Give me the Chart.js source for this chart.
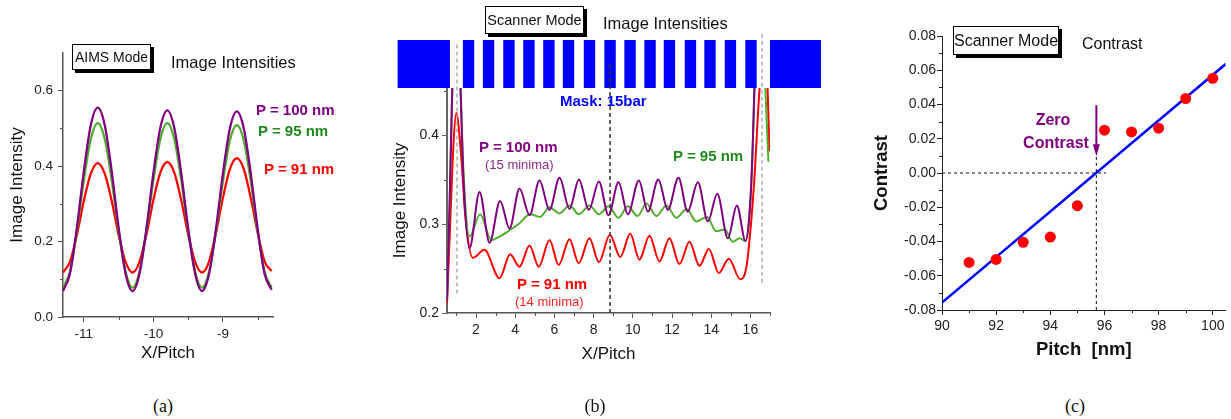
<!DOCTYPE html>
<html lang="en">
<head>
<meta charset="UTF-8" />
<title>Image Intensities and Contrast</title>
<script src="https://cdn.jsdelivr.net/npm/chart.js"></script>
<style>
  body { margin: 0; background: #fff; }
  #page { position: relative; width: 1231px; height: 419px; overflow: hidden;
          font-family: 'Liberation Sans', Arial, sans-serif; color: #111; }
  canvas { position: absolute; top: 0; }
  .txt { position: absolute; white-space: nowrap; line-height: 1; }
  .bold { font-weight: bold; }
  .box { position: absolute; border: 1px solid #000; background: #fff; box-shadow: 3px 3px 0 #000;
         box-sizing: border-box; text-align: center; white-space: nowrap; }
  .mid { transform: translateX(-50%); }
  .cap { position: absolute; font-family: 'Liberation Serif', 'Times New Roman', serif; font-size: 18px;
         line-height: 1; transform: translateX(-50%); }
</style>
</head>
<body>
<div id="page">
  <canvas id="chartA" width="340" height="372" style="left:0px"></canvas>
  <canvas id="chartB" width="480" height="372" style="left:350px"></canvas>
  <canvas id="chartC" width="371" height="372" style="left:860px"></canvas>

  <!-- (a) -->
  <div class="box" style="left:72px;top:44px;width:79px;height:26px;font-size:14px;line-height:24px;">AIMS Mode</div>
  <div class="txt" style="left:171px;top:54px;font-size:16.5px;">Image Intensities</div>
  <div class="txt bold" style="left:256px;top:102px;font-size:15px;color:#800080;">P = 100 nm</div>
  <div class="txt bold" style="left:258px;top:123px;font-size:15px;color:#1e8a1e;">P = 95 nm</div>
  <div class="txt bold" style="left:264px;top:161px;font-size:15px;color:#ff0000;">P = 91 nm</div>

  <!-- (b) -->
  <div class="box" style="left:485px;top:6px;width:99px;height:28px;font-size:14.5px;line-height:26px;">Scanner Mode</div>
  <div class="txt" style="left:603px;top:15px;font-size:16.5px;">Image Intensities</div>
  <div class="txt bold" style="left:560px;top:93px;font-size:15px;color:#0000ff;">Mask: 15bar</div>
  <div class="txt bold" style="left:479px;top:139px;font-size:15px;color:#800080;">P = 100 nm</div>
  <div class="txt" style="left:485px;top:158px;font-size:13px;color:#8a2a8a;">(15 minima)</div>
  <div class="txt bold" style="left:673px;top:148px;font-size:15px;color:#1e8a1e;">P = 95 nm</div>
  <div class="txt bold" style="left:517px;top:276px;font-size:15px;color:#ff0000;">P = 91 nm</div>
  <div class="txt" style="left:515px;top:295px;font-size:13px;color:#ff2020;">(14 minima)</div>

  <!-- (c) -->
  <div class="box" style="left:953px;top:26px;width:106px;height:29px;font-size:16px;line-height:27px;">Scanner Mode</div>
  <div class="txt" style="left:1082px;top:36px;font-size:16px;">Contrast</div>
  <div class="txt bold mid" style="left:1053px;top:112px;font-size:16px;color:#800080;">Zero</div>
  <div class="txt bold mid" style="left:1056px;top:135px;font-size:16px;color:#800080;">Contrast</div>

  <div class="cap" style="left:163px;top:397px;">(a)</div>
  <div class="cap" style="left:595px;top:397px;">(b)</div>
  <div class="cap" style="left:1075px;top:397px;">(c)</div>
</div>

<script>
// ---------- (a) AIMS mode, image intensity vs X/Pitch ----------
const aX   = [-11.3, -11.2, -11.1, -11.0, -10.9, -10.8, -10.7, -10.6, -10.5, -10.4, -10.3,
              -10.2, -10.1, -10.0, -9.9, -9.8, -9.7, -9.6, -9.5, -9.4, -9.3,
              -9.2, -9.1, -9.0, -8.9, -8.8, -8.7, -8.6, -8.5, -8.4, -8.3];
const a100 = [0.069, 0.115, 0.237, 0.387, 0.509, 0.555, 0.509, 0.387, 0.237, 0.115, 0.069,
              0.115, 0.234, 0.382, 0.502, 0.548, 0.502, 0.382, 0.234, 0.115, 0.069,
              0.114, 0.233, 0.381, 0.500, 0.545, 0.500, 0.381, 0.233, 0.114, 0.072];
const a95  = [0.079, 0.120, 0.229, 0.363, 0.472, 0.514, 0.472, 0.363, 0.229, 0.120, 0.078,
              0.120, 0.229, 0.363, 0.472, 0.514, 0.472, 0.363, 0.229, 0.120, 0.078,
              0.119, 0.227, 0.360, 0.468, 0.509, 0.468, 0.360, 0.227, 0.119, 0.078];
const a91  = [0.118, 0.146, 0.218, 0.308, 0.380, 0.408, 0.380, 0.308, 0.218, 0.146, 0.118,
              0.146, 0.219, 0.310, 0.383, 0.411, 0.383, 0.310, 0.219, 0.146, 0.118,
              0.147, 0.223, 0.316, 0.392, 0.421, 0.392, 0.316, 0.223, 0.147, 0.122];
const aXTicks = [-11, -10, -9];
const aXMinor = [-10.5, -9.5, -8.5];
const aYTicks = [0, 0.2, 0.4, 0.6];
const aYMinor = [0.1, 0.3, 0.5];

// ---------- (b) scanner mode, 15 bar mask ----------
const b100X = [0.52, 0.65, 0.79, 1.0, 1.2, 1.36, 1.67, 2.18, 2.69, 3.23, 3.71, 4.22, 4.73, 5.24, 5.75, 6.26, 6.77,
               7.25, 7.76, 8.27, 8.76, 9.27, 9.75, 10.31, 10.77, 11.30, 11.79, 12.33, 12.80, 13.32, 13.83,
               14.31, 14.85, 15.31, 15.75, 15.95, 16.1, 16.3, 16.6, 17.0];
const b100Y = [0.215, 0.32, 0.453, 0.58, 0.46, 0.35, 0.273, 0.336, 0.279, 0.326, 0.295, 0.340, 0.310, 0.349, 0.316, 0.352, 0.317,
               0.350, 0.316, 0.348, 0.310, 0.347, 0.311, 0.349, 0.314, 0.350, 0.316, 0.352, 0.314, 0.347, 0.303,
               0.334, 0.284, 0.321, 0.281, 0.31, 0.375, 0.52, 0.62, 0.5];
const b95X  = [0.52, 0.65, 0.79, 1.0, 1.2, 1.36, 1.67, 2.21, 2.78, 3.2, 3.71, 4.22, 4.76, 5.27, 5.75, 6.26, 6.77,
               7.25, 7.79, 8.27, 8.75, 9.27, 9.75, 10.24, 10.7, 11.2, 11.72, 12.22, 12.75, 13.24, 13.78,
               14.26, 14.7, 15.1, 15.45, 15.75, 15.95, 16.1, 16.3, 16.55, 16.75, 16.92];
const b95Y  = [0.22, 0.32, 0.453, 0.57, 0.46, 0.36, 0.286, 0.311, 0.282, 0.286, 0.293, 0.301, 0.311, 0.308, 0.319, 0.312, 0.321,
               0.311, 0.321, 0.311, 0.320, 0.307, 0.320, 0.309, 0.323, 0.309, 0.321, 0.307, 0.317, 0.303, 0.308,
               0.292, 0.294, 0.280, 0.284, 0.281, 0.31, 0.375, 0.52, 0.6, 0.46, 0.37];
const b91X  = [0.52, 0.7, 0.85, 0.99, 1.25, 1.45, 1.84, 2.43, 3.2, 3.74, 4.22, 4.73, 5.2, 5.75, 6.22, 6.77, 7.24,
               7.79, 8.27, 8.83, 9.36, 9.87, 10.34, 10.85, 11.36, 11.87, 12.38, 12.89, 13.40, 13.88, 14.39,
               14.90, 15.48, 15.79, 15.99, 16.2, 16.46, 16.7, 16.88, 16.97];
const b91Y  = [0.21, 0.31, 0.39, 0.425, 0.375, 0.31, 0.262, 0.271, 0.239, 0.266, 0.252, 0.276, 0.252, 0.282, 0.254, 0.283, 0.256,
               0.284, 0.257, 0.288, 0.263, 0.289, 0.260, 0.287, 0.258, 0.284, 0.255, 0.280, 0.253, 0.272, 0.245,
               0.261, 0.238, 0.251, 0.29, 0.35, 0.45, 0.5, 0.45, 0.382];
// mask openings in pitch units: left block, 15 bars, right block
const maskStart = [-2.0, 1.33, 2.35, 3.39, 4.41, 5.43, 6.43, 7.50, 8.55, 9.57, 10.59, 11.58, 12.65, 13.65, 14.69, 15.74, 17.0];
const maskEnd   = [0.67, 1.91, 2.93, 3.97, 4.99, 6.01, 7.01, 8.08, 9.13, 10.15, 11.17, 12.16, 13.23, 14.23, 15.27, 16.32, 19.6];
const maskTop = 0.507;
const bXTicks = [2, 4, 6, 8, 10, 12, 14, 16];
const bXMinor = [1, 3, 5, 7, 9, 11, 13, 15, 17];
const bYTicks = [0.2, 0.3, 0.4];
const bYMinor = [0.25, 0.35, 0.45];

// ---------- (c) contrast vs pitch ----------
const cPitch    = [91, 92, 93, 94, 95, 96, 97, 98, 99, 100];
const cContrast = [-0.0522, -0.0505, -0.0405, -0.0374, -0.0191, 0.0250, 0.0240, 0.0262, 0.0435, 0.0553];
const cFitX = [90, 100.5];
const cFitY = [-0.0757, 0.0639];
const zeroPitch = 95.7;
const cXTicks = [90, 92, 94, 96, 98, 100];
const cXMinor = [91, 93, 95, 97, 99];
const cYTicks = [-0.08, -0.06, -0.04, -0.02, 0, 0.02, 0.04, 0.06, 0.08];
const cYMinor = [-0.07, -0.05, -0.03, -0.01, 0.01, 0.03, 0.05, 0.07];

const PURPLE = '#800080', GREEN = '#4fae2c', RED = '#ff0000', BLUE = '#0000ff';
const FONT = "'Liberation Sans', Arial, sans-serif";

function pts(xs, ys) {
  return xs.map((x, i) => ({ x: x, y: ys[i] }));
}

// small unlabeled ticks between the labeled ones
const minorTicks = {
  id: 'minorTicks',
  afterDraw(chart, args, opts) {
    const ctx = chart.ctx, xs = chart.scales.x, ys = chart.scales.y;
    ctx.save();
    ctx.strokeStyle = opts.color;
    ctx.lineWidth = 1;
    ctx.beginPath();
    (opts.x || []).forEach(v => {
      const px = Math.round(xs.getPixelForValue(v)) + 0.5;
      ctx.moveTo(px, xs.top);
      ctx.lineTo(px, xs.top + opts.len);
    });
    (opts.y || []).forEach(v => {
      const py = Math.round(ys.getPixelForValue(v)) + 0.5;
      ctx.moveTo(ys.right, py);
      ctx.lineTo(ys.right - opts.len, py);
    });
    ctx.stroke();
    ctx.restore();
  }
};

function axis(o) {
  return {
    type: 'linear',
    min: o.min,
    max: o.max,
    afterBuildTicks: s => { s.ticks = o.ticks.map(v => ({ value: v })); },
    afterFit: s => { if (s.isHorizontal()) s.height = o.size; else s.width = o.size; },
    ticks: {
      font: { family: FONT, size: o.fsize },
      color: '#222',
      padding: o.pad,
      autoSkip: false,
      maxRotation: 0,
      callback: v => Number(v).toFixed(o.dec)
    },
    grid: { drawOnChartArea: false, drawTicks: true, tickLength: 5, tickColor: o.color, tickWidth: 1 },
    border: { display: true, color: o.color, width: o.width },
    title: {
      display: true,
      text: o.title,
      color: '#111',
      font: { family: FONT, size: o.tsize, weight: o.tweight || 'normal' },
      padding: o.tpad
    }
  };
}

function curve(data, color, width) {
  return {
    data: data,
    borderColor: color,
    borderWidth: width,
    pointRadius: 0,
    fill: false,
    cubicInterpolationMode: 'monotone'
  };
}

function dashed(data, color, width) {
  return {
    data: data,
    borderColor: color,
    borderWidth: width,
    borderDash: [4, 3],
    pointRadius: 0,
    fill: false,
    tension: 0,
    clip: false
  };
}

const baseOptions = {
  responsive: false,
  animation: false,
  events: []
};

// ---------- chart (a) ----------
new Chart(document.getElementById('chartA'), {
  type: 'line',
  data: {
    datasets: [
      curve(pts(aX, a100), PURPLE, 2.3),
      curve(pts(aX, a95), GREEN, 2.3),
      curve(pts(aX, a91), RED, 2.3)
    ]
  },
  options: Object.assign({}, baseOptions, {
    layout: { padding: { top: 53, right: 67, left: 0, bottom: 0 } },
    plugins: {
      legend: { display: false },
      tooltip: { enabled: false },
      minorTicks: { x: aXMinor, y: aYMinor, len: 3, color: '#555' }
    },
    scales: {
      x: axis({ min: -11.3, max: -8.28, ticks: aXTicks, dec: 0, size: 55, pad: 4, color: '#555', width: 1.5,
                fsize: 13.5, title: 'X/Pitch', tsize: 17, tpad: { top: 0, bottom: 8.8 } }),
      y: axis({ min: 0, max: 0.7, ticks: aYTicks, dec: 1, size: 63, pad: 5, color: '#555', width: 1.5,
                fsize: 13.5, title: 'Image Intensity', tsize: 17, tpad: { top: 6.8, bottom: 0 } })
    }
  }),
  plugins: [minorTicks]
});

// ---------- chart (b) ----------
const maskPlugin = {
  id: 'mask',
  beforeDatasetsDraw(chart) {
    const ctx = chart.ctx, xs = chart.scales.x, ys = chart.scales.y;
    const top = ys.getPixelForValue(maskTop), bottom = chart.chartArea.top;
    ctx.save();
    ctx.fillStyle = BLUE;
    for (let i = 0; i < maskStart.length; i++) {
      const l = xs.getPixelForValue(maskStart[i]);
      const r = xs.getPixelForValue(maskEnd[i]);
      ctx.fillRect(l, top, r - l, bottom - top);
    }
    ctx.restore();
  }
};

new Chart(document.getElementById('chartB'), {
  type: 'line',
  data: {
    datasets: [
      dashed(pts([8.84, 8.84], [0.2, 0.484]), '#333', 1.5),
      dashed(pts([1.03, 1.03], [0.222, 0.503]), '#999', 1.2),
      dashed(pts([16.59, 16.59], [0.234, 0.516]), '#999', 1.2),
      curve(pts(b100X, b100Y), PURPLE, 2),
      curve(pts(b95X, b95Y), GREEN, 2),
      curve(pts(b91X, b91Y), RED, 2)
    ]
  },
  options: Object.assign({}, baseOptions, {
    layout: { padding: { top: 88, right: 60, left: 0, bottom: 0 } },
    plugins: {
      legend: { display: false },
      tooltip: { enabled: false },
      minorTicks: { x: bXMinor, y: bYMinor, len: 3, color: '#555' }
    },
    scales: {
      x: axis({ min: 0.52, max: 17.0, ticks: bXTicks, dec: 0, size: 59, pad: 4, color: '#555', width: 1.5,
                fsize: 14, title: 'X/Pitch', tsize: 17, tpad: { top: 0, bottom: 7.8 } }),
      y: axis({ min: 0.2, max: 0.453, ticks: bYTicks, dec: 1, size: 97, pad: 3, color: '#666', width: 2,
                fsize: 14, title: 'Image Intensity', tsize: 17, tpad: { top: 40.5, bottom: 0 } })
    }
  }),
  plugins: [maskPlugin, minorTicks]
});

// ---------- chart (c) ----------
const arrowPlugin = {
  id: 'zeroArrow',
  afterDatasetsDraw(chart) {
    const ctx = chart.ctx, xs = chart.scales.x, ys = chart.scales.y;
    const px = xs.getPixelForValue(zeroPitch);
    const y0 = ys.getPixelForValue(0.0396);
    const y1 = ys.getPixelForValue(0.0098);
    ctx.save();
    ctx.strokeStyle = PURPLE;
    ctx.fillStyle = PURPLE;
    ctx.lineWidth = 2;
    ctx.beginPath();
    ctx.moveTo(px, y0);
    ctx.lineTo(px, y1 - 8);
    ctx.stroke();
    ctx.beginPath();
    ctx.moveTo(px, y1);
    ctx.lineTo(px - 3.5, y1 - 12);
    ctx.lineTo(px + 3.5, y1 - 12);
    ctx.closePath();
    ctx.fill();
    ctx.restore();
  }
};

new Chart(document.getElementById('chartC'), {
  type: 'line',
  data: {
    datasets: [
      {
        data: pts(cPitch, cContrast),
        showLine: false,
        pointRadius: 5.5,
        pointBackgroundColor: RED,
        pointBorderColor: RED,
        pointBorderWidth: 0
      },
      {
        data: pts(cFitX, cFitY),
        borderColor: BLUE,
        borderWidth: 2.5,
        pointRadius: 0,
        tension: 0,
        fill: false
      },
      Object.assign(dashed(pts([90, 96.06], [0, 0]), '#111', 1), { borderDash: [3, 3], clip: true }),
      Object.assign(dashed(pts([zeroPitch, zeroPitch], [-0.08, 0.0098]), '#111', 1), { borderDash: [3, 3], clip: true })
    ]
  },
  options: Object.assign({}, baseOptions, {
    layout: { padding: { top: 36, right: 4, left: 0, bottom: 0 } },
    plugins: {
      legend: { display: false },
      tooltip: { enabled: false },
      minorTicks: { x: cXMinor, y: cYMinor, len: 3, color: '#222' }
    },
    scales: {
      x: axis({ min: 90, max: 100.47, ticks: cXTicks, dec: 0, size: 62, pad: 3, color: '#222', width: 1,
                fsize: 14, title: 'Pitch  [nm]', tsize: 18.5, tweight: 'bold', tpad: { top: 0, bottom: 10.9 } }),
      y: axis({ min: -0.08, max: 0.08, ticks: cYTicks, dec: 2, size: 82, pad: 1, color: '#222', width: 1,
                fsize: 14, title: 'Contrast', tsize: 18.5, tweight: 'bold', tpad: { top: 10.9, bottom: 0 } })
    }
  }),
  plugins: [arrowPlugin, minorTicks]
});
</script>
</body>
</html>
